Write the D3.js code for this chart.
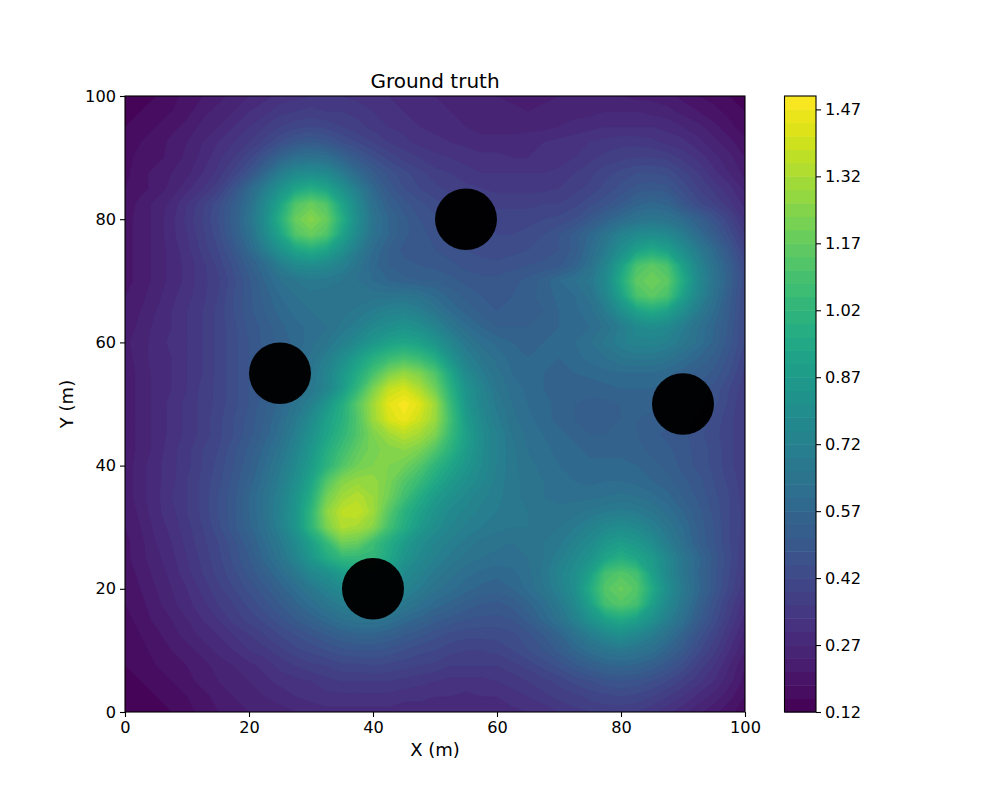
<!DOCTYPE html>
<html>
<head>
<meta charset="utf-8">
<script src="https://cdnjs.cloudflare.com/ajax/libs/d3/7.8.5/d3.min.js"></script>
<style>
  html, body { margin: 0; padding: 0; background: #fff; }
  text { font-family: "DejaVu Sans", sans-serif; fill: #000; }
</style>
</head>
<body>
<div id="chart"></div>
<script>
// values, 2.5 m apart, first row is Y=100, last row is Y=0
var gridStep = 2.5;
var fieldRows = [
  [.13,.14,.15,.17,.19,.21,.23,.25,.27,.29,.31,.32,.33,.33,.33,.32,.31,.30,.29,.28,.27,.26,.25,.24,.24,.23,.23,.23,.24,.24,.24,.24,.24,.23,.23,.22,.20,.18,.17,.15,.13],
  [.14,.15,.16,.18,.20,.23,.25,.27,.30,.32,.35,.36,.37,.36,.36,.35,.33,.32,.30,.29,.28,.27,.26,.25,.25,.25,.24,.25,.25,.26,.26,.27,.27,.27,.26,.25,.23,.21,.19,.17,.15],
  [.15,.17,.18,.20,.22,.25,.27,.30,.33,.36,.39,.41,.42,.41,.39,.37,.35,.33,.32,.30,.29,.28,.27,.26,.26,.26,.26,.26,.27,.28,.29,.30,.30,.30,.30,.29,.27,.25,.22,.19,.16],
  [.16,.18,.19,.22,.24,.27,.30,.33,.36,.40,.45,.49,.51,.49,.45,.42,.39,.36,.34,.32,.31,.30,.29,.28,.28,.28,.29,.30,.31,.32,.33,.34,.35,.35,.34,.32,.31,.28,.25,.22,.19],
  [.17,.19,.20,.22,.25,.28,.32,.36,.41,.48,.56,.62,.64,.62,.56,.50,.45,.41,.38,.36,.34,.33,.32,.31,.31,.30,.30,.31,.31,.33,.35,.37,.38,.39,.39,.38,.35,.32,.28,.25,.21],
  [.17,.20,.22,.24,.26,.30,.34,.40,.47,.58,.70,.77,.79,.77,.69,.59,.52,.47,.43,.40,.37,.36,.34,.33,.33,.33,.33,.33,.34,.36,.38,.41,.43,.45,.45,.44,.40,.36,.31,.27,.23],
  [.18,.20,.22,.25,.29,.33,.38,.47,.58,.70,.82,.92,.97,.92,.82,.70,.58,.50,.45,.42,.40,.38,.37,.36,.35,.35,.35,.35,.36,.38,.40,.43,.46,.49,.50,.49,.44,.39,.35,.31,.26],
  [.19,.22,.25,.28,.33,.38,.44,.52,.62,.77,.92,1.12,1.18,1.12,.92,.77,.62,.54,.49,.46,.43,.41,.39,.38,.38,.38,.38,.39,.39,.41,.44,.47,.51,.56,.58,.56,.49,.43,.39,.34,.29],
  [.20,.22,.25,.29,.34,.39,.45,.53,.64,.79,.98,1.18,1.25,1.18,.98,.79,.65,.57,.52,.48,.46,.44,.43,.42,.41,.41,.41,.42,.43,.45,.50,.55,.60,.64,.66,.64,.60,.54,.47,.40,.32],
  [.20,.22,.25,.29,.33,.38,.44,.52,.62,.77,.92,1.12,1.18,1.12,.92,.77,.64,.57,.52,.49,.47,.45,.44,.43,.42,.42,.43,.45,.48,.52,.58,.65,.73,.78,.79,.77,.70,.60,.52,.44,.36],
  [.20,.22,.25,.28,.32,.37,.42,.49,.58,.70,.82,.92,.97,.92,.82,.70,.60,.54,.50,.49,.48,.46,.45,.44,.43,.44,.45,.46,.48,.52,.60,.69,.80,.90,.95,.90,.80,.69,.59,.49,.39],
  [.20,.22,.25,.28,.31,.35,.40,.46,.53,.60,.70,.77,.79,.77,.72,.65,.58,.54,.52,.51,.50,.49,.47,.46,.46,.47,.48,.49,.50,.55,.63,.75,.90,1.10,1.15,1.10,.90,.75,.63,.53,.42],
  [.20,.22,.25,.28,.31,.35,.38,.44,.50,.57,.63,.66,.68,.67,.66,.63,.60,.57,.55,.54,.54,.52,.50,.49,.49,.50,.52,.55,.60,.63,.67,.77,.96,1.15,1.20,1.15,.96,.77,.65,.54,.43],
  [.21,.23,.26,.29,.32,.35,.39,.45,.50,.55,.60,.63,.65,.65,.65,.64,.65,.65,.66,.64,.60,.56,.53,.51,.50,.51,.53,.55,.58,.60,.64,.75,.90,1.10,1.15,1.10,.90,.75,.63,.52,.42],
  [.22,.24,.27,.30,.33,.36,.40,.45,.50,.54,.58,.61,.63,.64,.65,.67,.70,.73,.74,.71,.66,.60,.56,.53,.51,.51,.52,.54,.57,.59,.62,.69,.80,.90,.95,.90,.80,.69,.60,.51,.42],
  [.22,.25,.28,.30,.33,.36,.40,.44,.49,.52,.56,.59,.61,.63,.67,.71,.77,.80,.83,.80,.74,.67,.61,.57,.54,.54,.54,.55,.57,.58,.60,.64,.70,.77,.79,.77,.70,.63,.57,.50,.42],
  [.23,.26,.28,.31,.33,.36,.40,.44,.48,.52,.55,.58,.62,.66,.72,.78,.85,.90,.93,.90,.84,.75,.67,.62,.59,.57,.56,.57,.58,.60,.63,.67,.71,.74,.74,.72,.67,.62,.56,.49,.42],
  [.22,.26,.28,.30,.33,.36,.40,.44,.48,.51,.54,.59,.64,.71,.79,.89,.98,1.05,1.09,1.05,.97,.83,.72,.66,.62,.59,.57,.57,.57,.59,.61,.63,.66,.67,.67,.65,.61,.57,.53,.47,.40],
  [.22,.25,.28,.30,.33,.36,.40,.44,.48,.51,.54,.60,.66,.74,.85,.96,1.09,1.22,1.28,1.23,1.12,.94,.78,.70,.64,.60,.58,.57,.56,.57,.58,.59,.60,.60,.60,.58,.55,.53,.50,.45,.38],
  [.22,.25,.28,.30,.33,.37,.40,.44,.48,.51,.55,.61,.67,.74,.87,1.03,1.22,1.37,1.41,1.33,1.20,1.00,.83,.74,.66,.62,.59,.57,.55,.55,.55,.56,.57,.57,.57,.55,.53,.50,.47,.42,.37],
  [.22,.25,.28,.31,.34,.37,.40,.44,.48,.53,.58,.65,.72,.84,.97,1.14,1.30,1.44,1.49,1.43,1.30,1.05,.85,.75,.68,.63,.60,.58,.56,.54,.53,.53,.54,.55,.55,.54,.52,.49,.46,.41,.36],
  [.22,.25,.28,.31,.34,.37,.41,.45,.49,.54,.60,.68,.78,.90,.99,1.12,1.29,1.41,1.46,1.39,1.29,1.08,.88,.77,.70,.64,.61,.58,.56,.54,.53,.53,.54,.54,.53,.52,.50,.47,.44,.40,.36],
  [.22,.25,.28,.31,.34,.37,.41,.45,.50,.55,.62,.71,.82,.92,1.02,1.12,1.23,1.30,1.35,1.31,1.23,1.05,.90,.79,.72,.66,.62,.60,.58,.56,.54,.54,.55,.54,.52,.50,.49,.46,.43,.40,.36],
  [.22,.25,.28,.32,.35,.39,.42,.47,.52,.58,.65,.74,.85,.97,1.07,1.16,1.22,1.24,1.26,1.22,1.12,1.00,.88,.79,.72,.67,.63,.61,.59,.58,.56,.56,.56,.55,.53,.52,.49,.47,.44,.40,.36],
  [.22,.26,.29,.32,.35,.39,.43,.48,.53,.60,.68,.77,.88,1.00,1.12,1.20,1.23,1.23,1.20,1.13,1.02,.93,.85,.78,.72,.67,.64,.62,.60,.59,.58,.58,.58,.57,.55,.53,.50,.47,.44,.40,.36],
  [.22,.26,.29,.32,.36,.40,.44,.49,.55,.62,.70,.80,.92,1.12,1.24,1.28,1.28,1.22,1.13,1.05,.95,.87,.81,.76,.71,.67,.65,.63,.61,.60,.59,.60,.60,.59,.57,.55,.52,.49,.45,.41,.37],
  [.22,.26,.29,.33,.36,.40,.45,.50,.57,.64,.72,.83,.97,1.20,1.30,1.34,1.29,1.20,1.08,.97,.88,.82,.77,.73,.70,.67,.65,.63,.62,.62,.62,.63,.64,.63,.61,.58,.54,.50,.46,.42,.37],
  [.21,.25,.29,.32,.36,.40,.45,.50,.57,.64,.73,.84,1.02,1.26,1.36,1.38,1.30,1.14,1.00,.91,.83,.77,.74,.71,.69,.67,.66,.65,.64,.65,.67,.69,.70,.69,.66,.62,.57,.52,.47,.42,.38],
  [.21,.24,.28,.31,.35,.39,.44,.50,.56,.63,.72,.84,1.02,1.22,1.33,1.31,1.25,1.09,.97,.87,.80,.75,.71,.69,.67,.66,.66,.65,.66,.69,.73,.77,.79,.77,.72,.66,.60,.53,.48,.42,.38],
  [.20,.23,.27,.30,.34,.38,.42,.47,.53,.60,.68,.78,.90,1.04,1.20,1.18,1.07,.97,.88,.80,.75,.71,.68,.65,.64,.63,.64,.66,.68,.73,.78,.85,.88,.85,.79,.70,.62,.54,.48,.42,.37],
  [.20,.23,.26,.29,.33,.37,.41,.46,.51,.58,.65,.74,.85,.96,1.03,1.03,1.03,.94,.84,.77,.72,.68,.65,.63,.62,.62,.63,.66,.71,.77,.83,.92,.98,.93,.87,.76,.66,.58,.50,.43,.36],
  [.19,.22,.25,.28,.32,.36,.40,.44,.49,.54,.60,.67,.76,.80,.87,.92,.95,.88,.78,.73,.68,.64,.61,.59,.58,.59,.62,.67,.74,.80,.90,1.09,1.13,1.09,.90,.77,.66,.57,.49,.42,.35],
  [.18,.21,.24,.27,.30,.34,.38,.42,.46,.50,.55,.61,.67,.73,.78,.82,.84,.80,.74,.69,.64,.61,.58,.56,.55,.57,.61,.66,.72,.80,.96,1.13,1.18,1.13,.96,.80,.68,.58,.49,.41,.34],
  [.18,.20,.23,.26,.29,.32,.36,.39,.43,.47,.51,.56,.61,.66,.70,.73,.74,.71,.67,.63,.59,.56,.53,.51,.50,.52,.56,.61,.68,.77,.90,1.09,1.13,1.09,.90,.77,.66,.55,.46,.38,.31],
  [.17,.19,.22,.24,.27,.30,.33,.37,.40,.43,.47,.51,.55,.59,.63,.65,.65,.63,.59,.56,.52,.50,.48,.47,.47,.48,.52,.58,.64,.72,.82,.90,.95,.90,.82,.71,.62,.52,.44,.36,.29],
  [.16,.18,.20,.23,.25,.28,.30,.33,.36,.39,.42,.45,.48,.51,.54,.56,.56,.54,.51,.49,.46,.44,.43,.43,.43,.44,.47,.51,.56,.63,.70,.76,.80,.76,.70,.63,.55,.47,.40,.33,.26],
  [.15,.17,.19,.21,.23,.25,.28,.30,.33,.35,.38,.41,.43,.45,.47,.48,.48,.47,.45,.43,.42,.40,.39,.39,.40,.42,.45,.48,.52,.57,.62,.65,.67,.65,.62,.56,.50,.43,.37,.30,.24],
  [.15,.16,.18,.19,.21,.23,.25,.27,.29,.31,.34,.36,.38,.39,.41,.41,.42,.41,.40,.39,.38,.36,.36,.36,.36,.38,.40,.43,.46,.50,.53,.56,.57,.56,.53,.49,.44,.38,.33,.27,.21],
  [.14,.15,.17,.18,.20,.22,.24,.26,.27,.29,.31,.32,.33,.35,.36,.36,.36,.36,.35,.34,.33,.32,.32,.32,.33,.34,.36,.38,.40,.43,.45,.47,.48,.47,.45,.42,.38,.34,.30,.25,.20],
  [.14,.14,.15,.17,.18,.20,.22,.24,.25,.27,.28,.30,.31,.32,.32,.32,.32,.32,.31,.31,.30,.30,.29,.30,.30,.32,.33,.35,.37,.38,.40,.41,.42,.41,.39,.36,.33,.29,.26,.22,.18],
  [.13,.13,.14,.15,.17,.19,.21,.22,.24,.25,.26,.27,.28,.29,.29,.29,.29,.29,.28,.28,.27,.27,.27,.27,.28,.29,.30,.31,.33,.35,.36,.37,.37,.36,.34,.31,.28,.25,.22,.19,.16]
];

var levelMin = 0.12;
var levelMax = 1.50;
var levelStep = 0.03;
var levels = d3.range(0, 46).map(function(i) { return levelMin + i * levelStep; });

var axisTicks = [0, 20, 40, 60, 80, 100];
var colorTicks = [0.12, 0.27, 0.42, 0.57, 0.72, 0.87, 1.02, 1.17, 1.32, 1.47];

// black discs: centre X, centre Y, radius in metres
var discX = [25, 55, 90, 40];
var discY = [55, 80, 50, 20];
var discR = 5;

var titleText = "Ground truth";
var xLabel = "X (m)";
var yLabel = "Y (m)";

var svgWidth = 1000;
var svgHeight = 800;

var margin = {
    top: 96,
    left: 125
};
var width = 620;
var height = 616;

var svg = d3.select("#chart")
    .append("svg")
    .attr("width", svgWidth)
    .attr("height", svgHeight)
    .style("display", "block");

var xScale = d3.scaleLinear().domain([0, 100]).range([0, width]);
var yScale = d3.scaleLinear().domain([0, 100]).range([height, 0]);

var color = function(level) {
    return d3.interpolateViridis((level + levelStep / 2 - levelMin) / (levelMax - levelMin));
};

svg.append("clipPath")
    .attr("id", "plot-clip")
    .append("rect")
    .attr("width", width)
    .attr("height", height);

var chartGroup = svg.append("g")
    .attr("transform", `translate(${margin.left},${margin.top})`);

var plotGroup = chartGroup.append("g")
    .attr("clip-path", "url(#plot-clip)");

// contours work on grid cells, a grid point i sits at i + 0.5
var cols = fieldRows[0].length;
var rows = fieldRows.length;
var contours = d3.contours()
    .size([cols, rows])
    .thresholds(levels)(d3.merge(fieldRows));

var gridToPlot = d3.geoTransform({
    point: function(x, y) {
        this.stream.point(xScale((x - 0.5) * gridStep), yScale(100 - (y - 0.5) * gridStep));
    }
});
var path = d3.geoPath(gridToPlot);

plotGroup.selectAll("path")
    .data(contours)
    .enter()
    .append("path")
    .attr("d", path)
    .attr("fill", d => color(d.value))
    .attr("stroke", d => color(d.value))
    .attr("stroke-width", 0.3);

plotGroup.selectAll("ellipse")
    .data(discX)
    .enter()
    .append("ellipse")
    .attr("cx", d => xScale(d))
    .attr("cy", (d, i) => yScale(discY[i]))
    .attr("rx", xScale(discR) - xScale(0))
    .attr("ry", yScale(0) - yScale(discR))
    .attr("fill", "#000")
    .attr("fill-opacity", 0.98);

var bottomAxis = d3.axisBottom(xScale).tickValues(axisTicks).tickSize(5).tickPadding(4).tickSizeOuter(0);
var leftAxis = d3.axisLeft(yScale).tickValues(axisTicks).tickSize(5).tickPadding(4).tickSizeOuter(0);

chartGroup.append("g")
    .attr("class", "axis")
    .attr("transform", `translate(0,${height})`)
    .call(bottomAxis);

chartGroup.append("g")
    .attr("class", "axis")
    .call(leftAxis);

chartGroup.append("rect")
    .attr("width", width)
    .attr("height", height)
    .attr("fill", "none")
    .attr("stroke", "#000")
    .attr("stroke-width", 1.1);

chartGroup.append("text")
    .attr("x", width / 2)
    .attr("y", -8)
    .attr("text-anchor", "middle")
    .style("font-size", "20px")
    .text(titleText);

chartGroup.append("text")
    .attr("x", width / 2)
    .attr("y", height + 44)
    .attr("text-anchor", "middle")
    .style("font-size", "18px")
    .text(xLabel);

chartGroup.append("text")
    .attr("transform", "rotate(-90)")
    .attr("x", -height / 2)
    .attr("y", -52)
    .attr("text-anchor", "middle")
    .style("font-size", "18px")
    .text(yLabel);

// colour bar
var barWidth = 31.5;
var barGroup = svg.append("g")
    .attr("transform", `translate(784.5,${margin.top})`);

var barScale = d3.scaleLinear().domain([levelMin, levelMax]).range([height, 0]);

barGroup.selectAll("rect.band")
    .data(levels)
    .enter()
    .append("rect")
    .attr("class", "band")
    .attr("x", 0)
    .attr("width", barWidth)
    .attr("y", d => barScale(d + levelStep))
    .attr("height", d => barScale(d) - barScale(d + levelStep) + 0.5)
    .attr("fill", d => color(d));

barGroup.append("rect")
    .attr("width", barWidth)
    .attr("height", height)
    .attr("fill", "none")
    .attr("stroke", "#000")
    .attr("stroke-width", 1.1);

var barAxis = d3.axisRight(barScale)
    .tickValues(colorTicks)
    .tickFormat(d3.format(".2f"))
    .tickSize(5)
    .tickPadding(4)
    .tickSizeOuter(0);

barGroup.append("g")
    .attr("class", "axis")
    .attr("transform", `translate(${barWidth},0)`)
    .call(barAxis);

svg.selectAll(".axis text").style("font-size", "16.2px").attr("fill", "#000");
svg.selectAll(".axis line").attr("stroke", "#000").attr("stroke-width", 1.1);
svg.selectAll(".axis path.domain").remove();
</script>
</body>
</html>
